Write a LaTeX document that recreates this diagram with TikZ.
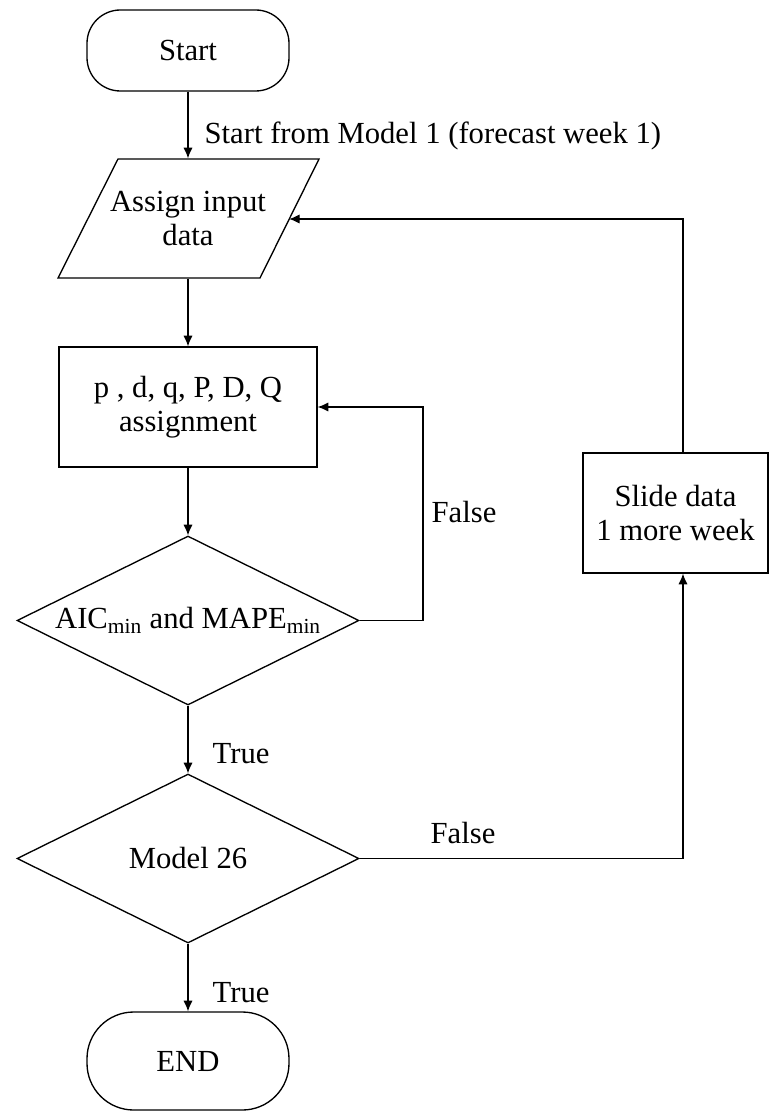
\documentclass[tikz,border=0pt]{standalone}
\usepackage{fontspec}
\setmainfont{Liberation Serif}
\usetikzlibrary{shapes.geometric,arrows.meta,calc}
\begin{document}
\begin{tikzpicture}[x=0.75pt,y=-0.75pt, line width=1pt,
  every node/.style={font=\fontsize{23}{25.5}\selectfont},
  termbox/.style={draw, rectangle, inner sep=0pt, align=center},
  plainbox/.style={rectangle, inner sep=0pt, align=center},
  procbox/.style={draw, rectangle, inner sep=0pt, align=center},
  decbox/.style={draw, diamond, shape aspect=2, inner sep=0pt, minimum width=256.5pt, minimum height=126.75pt, align=center},
  arr/.style={-{Latex[length=8pt,width=7pt]}},
  lbl/.style={anchor=base west, inner sep=0pt}]
\useasboundingbox (0,0) rectangle (771,1112);

% terminator: Start
\node[termbox, rounded corners=25pt, minimum width=151.5pt, minimum height=60.75pt] (s) at (188,50.5) {Start};

% parallelogram: input
\node[plainbox, minimum width=150pt, minimum height=89.25pt] (para) at (188,218.5) {Assign input\\data};
\draw (118,159) -- (319,159) -- (260,278) -- (58,278) -- cycle;
\coordinate (paraR) at (289,219);

% process
\node[procbox, minimum width=193.5pt, minimum height=90pt] (p) at (188,407) {p , d, q, P, D, Q\\assignment};

% decisions
\node[decbox] (d1) at (188,620.5) {AIC\textsubscript{min} and MAPE\textsubscript{min}};
\node[decbox] (d2) at (188,858.5) {Model 26};

% slide
\node[procbox, minimum width=138.75pt, minimum height=90pt] (slide) at (675.5,513) {Slide data\\1 more week};

% terminator: END
\node[termbox, rounded corners=35pt, minimum width=151.5pt, minimum height=73.5pt] (e) at (188,1061) {END};

% helper coordinates for loop lines
\coordinate (fb) at (423,0);
\coordinate (lp) at (683,0);

% connectors
\draw[arr] (s) -- (para);
\draw[arr] (para) -- (p);
\draw[arr] (p) -- (d1);
\draw[arr] (d1.east) -- (d1.east -| fb) -- (p.east -| fb) -- (p.east);
\draw[arr] (d1) -- (d2);
\draw[arr] (d2) -- (e);
\draw[arr] (d2.east) -- (d2.east -| lp) -- (slide.south -| lp);
\draw[arr] (slide.north -| lp) -- (paraR -| lp) -- (paraR);

% labels
\node[lbl] (l1) at (204,144) {Start from Model 1 (forecast week 1)};
\node[lbl] (l2) at (431,522) {False};
\node[lbl] (l3) at (212,763) {True};
\node[lbl] (l4) at (430,843) {False};
\node[lbl] (l5) at (212,1002) {True};
\end{tikzpicture}
\end{document}
